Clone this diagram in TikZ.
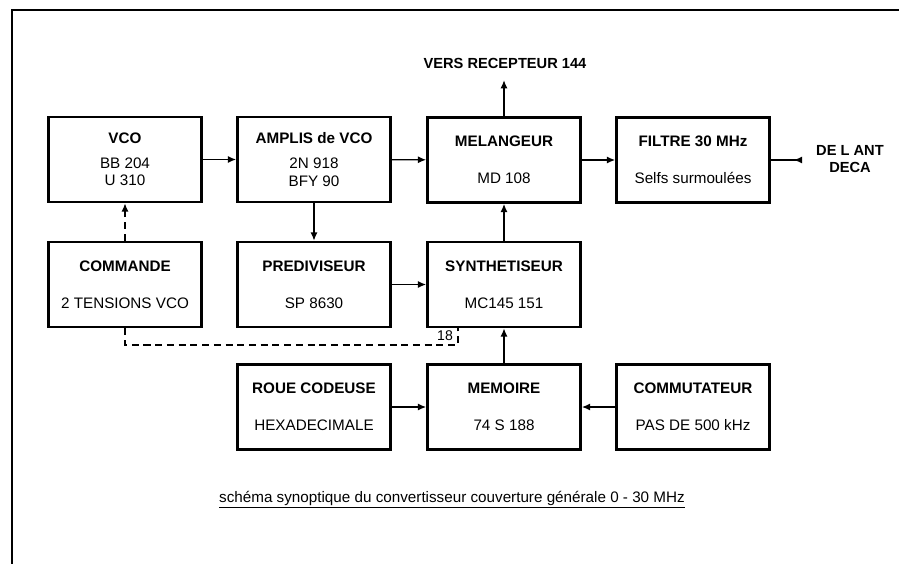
\documentclass[tikz,border=0pt]{standalone}
\usepackage{fontspec}
\setmainfont{Liberation Sans}
\usepackage{tikz}
\usetikzlibrary{arrows.meta}

\begin{document}
\begin{tikzpicture}[x=0.03cm, y=-0.03cm,
  bloc/.style={draw, line width=2.3pt, minimum width=4.59cm, minimum height=2.55cm,
    align=center, font=\fontsize{13}{15}\selectfont},
  fleche/.style={line width=1.2pt, -{Latex[length=7pt,width=6pt]}},
  pointille/.style={line width=1.2pt, dash pattern=on 6pt off 4pt}]
\useasboundingbox (0,0) rectangle (899,564);

% Cadre
\draw[line width=2.4pt] (899,10) -- (12,10) -- (12,564);

% Premiere rangee
\node[bloc] (vco) at (125,159.5) {\textbf{VCO}\\[6pt]BB 204\\U 310};
\node[bloc] (amplis) at (314,159.5) {\textbf{AMPLIS de VCO}\\[6pt]2N 918\\BFY 90};
\node[bloc] (mel) at (504,160) {\textbf{MELANGEUR}\\[17pt]MD 108};
\node[bloc] (filtre) at (693,160) {\textbf{FILTRE 30 MHz}\\[17pt]Selfs surmoulées};

% Deuxieme rangee
\node[bloc] (cde) at (125,284.5) {\textbf{COMMANDE}\\[17pt]2 TENSIONS VCO};
\node[bloc] (prediv) at (314,284.5) {\textbf{PREDIVISEUR}\\[17pt]SP 8630};
\node[bloc] (synth) at (504,284.5) {\textbf{SYNTHETISEUR}\\[17pt]MC145 151};

% Troisieme rangee
\node[bloc] (roue) at (314,407) {\textbf{ROUE CODEUSE}\\[17pt]HEXADECIMALE};
\node[bloc] (mem) at (504,407) {\textbf{MEMOIRE}\\[17pt]74 S 188};
\node[bloc] (commut) at (693,407) {\textbf{COMMUTATEUR}\\[17pt]PAS DE 500 kHz};

% Textes libres
\node[font=\fontsize{12.5}{15}\selectfont\bfseries, inner sep=1pt] (vers) at (505,63) {VERS RECEPTEUR 144};
\node[font=\fontsize{12.5}{15}\selectfont\bfseries, align=center] (ant) at (850,159) {DE L ANT\\DECA};
\coordinate (antin) at (802,160);

% Liaisons
\draw[fleche] (vco) -- (amplis);
\draw[fleche] (amplis) -- (mel);
\draw[fleche] (mel) -- (filtre);
\draw[fleche, shorten >=9pt] (mel.north) -- (mel.north |- vers.south);
\draw[line width=1.2pt, -{Latex[length=7pt,width=6pt,reversed]}] (filtre) -- (antin);
\draw[fleche] (amplis) -- (prediv);
\draw[fleche] (prediv) -- (synth);
\draw[fleche] (synth) -- (mel);
\draw[fleche] (mem) -- (synth);
\draw[fleche] (roue) -- (mem);
\draw[fleche] (commut) -- (mem);
\draw[pointille, -{Latex[length=7pt,width=6pt]}] (cde) -- (vco);

% Bus 18 fils
\coordinate (bus) at (458,327);
\draw[pointille] (cde.south) -- (125,345) -- (458,345) -- (bus);
\node[font=\fontsize{12}{14}\selectfont, inner sep=1pt] (dixhuit) at (445,336) {18};

% Legende
\node[font=\fontsize{13}{15}\selectfont] (titre) at (452,500) {\underline{schéma synoptique du convertisseur couverture générale 0 - 30 MHz}};

\end{tikzpicture}
\end{document}
